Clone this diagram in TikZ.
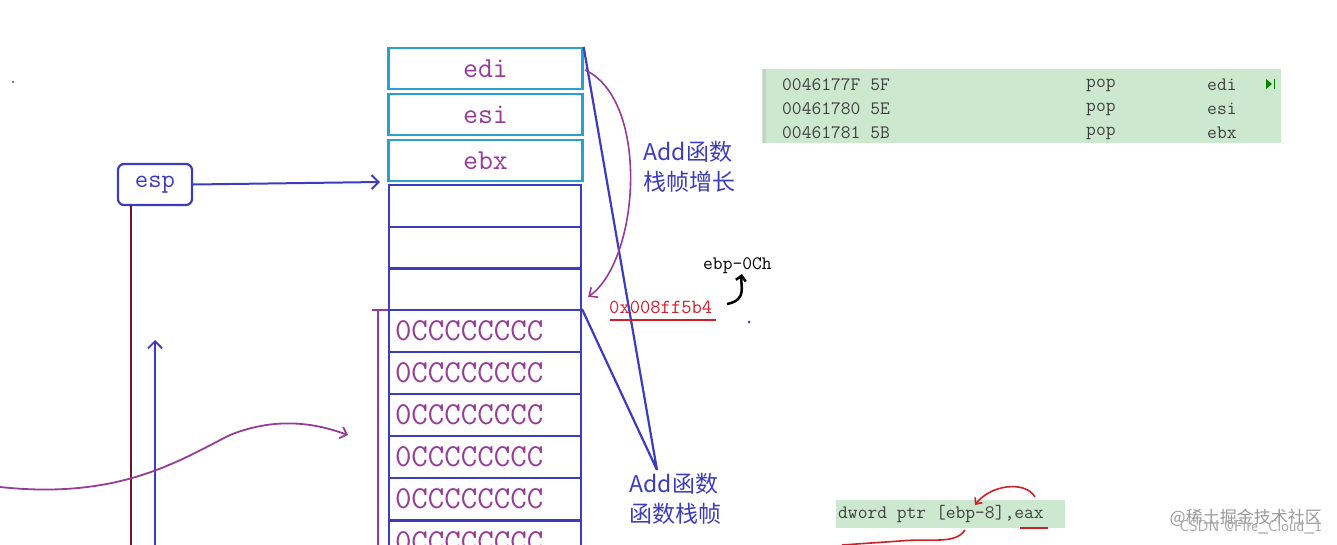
\documentclass[tikz,border=0pt]{standalone}
\usepackage{fontspec}
\newfontfamily\cjk{Noto Sans CJK SC}
\newfontfamily\mono{Latin Modern Mono}
\definecolor{cy}{RGB}{40,160,210}
\definecolor{bl}{RGB}{60,60,190}
\definecolor{pu}{RGB}{150,60,150}
\definecolor{dr}{RGB}{120,20,40}
\definecolor{gr}{RGB}{204,232,207}
\definecolor{rd}{RGB}{210,30,40}
\usetikzlibrary{arrows.meta}
\tikzset{cbox/.style={draw=cy,line width=2.2pt,minimum width=194pt,minimum height=41pt,inner sep=0,text=pu,font=\mono\fontsize{29}{29}\selectfont},
bbox/.style={draw=bl,line width=2pt,minimum width=192pt,minimum height=42pt,inner sep=0,text=pu,font=\mono\fontsize{32}{32}\selectfont},
lbl/.style={text=bl,font=\cjk\fontsize{23}{30}\selectfont,align=left},
asm/.style={font=\mono\fontsize{19}{19}\selectfont,text=black!75,anchor=west,inner sep=0}}
\begin{document}
\begin{tikzpicture}[x=1pt,y=-1pt]
\useasboundingbox (0,0) rectangle (1337,545);
\node[cbox] (edi) at (485.5,68.5) {edi};
\node[cbox] (esi) at (485.5,114.5) {esi};
\node[cbox] (ebx) at (485.5,160.5) {ebx};
\node[bbox] (b1) at (485,206) {};
\node[bbox] (b2) at (485,248) {};
\node[bbox] (b3) at (485,289) {};
\foreach \i/\y in {4/331,5/373,6/415,7/457,8/499}
  \node[bbox,text width=180pt,align=left] (b\i) at (485,\y) {0CCCCCCCC};
\node[bbox,text width=180pt,align=left,anchor=north] (b9) at (485,520) {0CCCCCCCC};
\node[draw=bl,line width=2.2pt,rounded corners=6pt,minimum width=74pt,minimum height=41pt,text=bl,font=\mono\fontsize{26}{26}\selectfont] (esp) at (155,184.5) {esp};
\draw[bl,line width=2pt,-{Straight Barb[length=7pt,width=14pt]}] (esp.east) -- (380,182);
\draw[dr,line width=2pt] (131,205) -- (131,545);
\draw[bl,line width=1.8pt,-{Straight Barb[length=7pt,width=14pt]}] (155,545) -- (155,340);
\draw[pu,line width=1.8pt,-{Straight Barb[length=6pt,width=12pt]}] (0,487) .. controls (120,500) and (180,460) .. (230,435) .. controls (280,415) and (320,425) .. (348,435);
\draw[pu,line width=1.8pt] (372,310) -- (388,310) (378,310) -- (378,545);
\coordinate (tip) at (657,470);
\draw[bl,line width=2.2pt] (edi.north east) -- (tip) (b4.north east) -- (tip);
\draw[pu,line width=1.6pt,-{Straight Barb[length=7pt,width=12pt]}] (585,70) .. controls (650,100) and (640,260) .. (588,297);
\node[lbl,anchor=north west] (l1) at (640,138) {Add函数\\栈帧增长};
\node[lbl,anchor=north west] (l2) at (626,470) {Add函数\\函数栈帧};
\node[text=rd,font=\mono\fontsize{20}{20}\selectfont,anchor=west,inner sep=0] (addr) at (609,307) {0x008ff5b4};
\draw[rd,line width=2.5pt] (610,320) -- (716,320);
\node[font=\mono\bfseries\fontsize{19}{19}\selectfont,anchor=west,inner sep=0] (ebp) at (703,266) {ebp-0Ch};
\draw[line width=2.5pt,-{Straight Barb[length=5pt,width=10pt]}] (727,304) .. controls (748,300) and (740,285) .. (742,274);
\fill[bl] (749,322) circle (1.5pt);
\fill[black] (13,82) circle (0.8pt);
\fill[gr] (762,69) rectangle (1281,143);
\draw[black!20,line width=3pt] (764,69) -- (764,143);
\fill[green!50!black] (1266,79) -- (1272,84) -- (1266,89) -- cycle;
\draw[green!50!black] (1274,79) -- (1274,89);
\foreach \y/\a/\b/\c in {85/0046177F 5F/pop/edi,109/00461780 5E/pop/esi,133/00461781 5B/pop/ebx}{
  \node[asm] at (782,\y) {\a};
  \node[asm] at (1086,\y) {\b};
  \node[asm] at (1207,\y) {\c};}
\fill[gr] (836,500) rectangle (1065,528);
\node[asm] (dw) at (838,514) {dword ptr [ebp-8],eax};
\draw[rd,line width=1.6pt,-{Straight Barb[length=5pt,width=9pt]}] (1035,497) .. controls (1025,480) and (990,485) .. (975,505);
\draw[rd,line width=2.5pt] (1020,528) -- (1048,528);
\draw[rd,line width=1.6pt] (965,530) .. controls (955,545) and (930,538) .. (900,541) -- (842,545);
\node[text=black!40,font=\cjk\fontsize{17}{17}\selectfont,anchor=east,inner sep=0] (wm1) at (1322,518) {@稀土掘金技术社区};
\node[text=black!35,font=\sffamily\fontsize{16}{16}\selectfont,anchor=east,inner sep=0] (wm2) at (1322,527) {CSDN @Fire\_Cloud\_1};
\end{tikzpicture}
\end{document}
